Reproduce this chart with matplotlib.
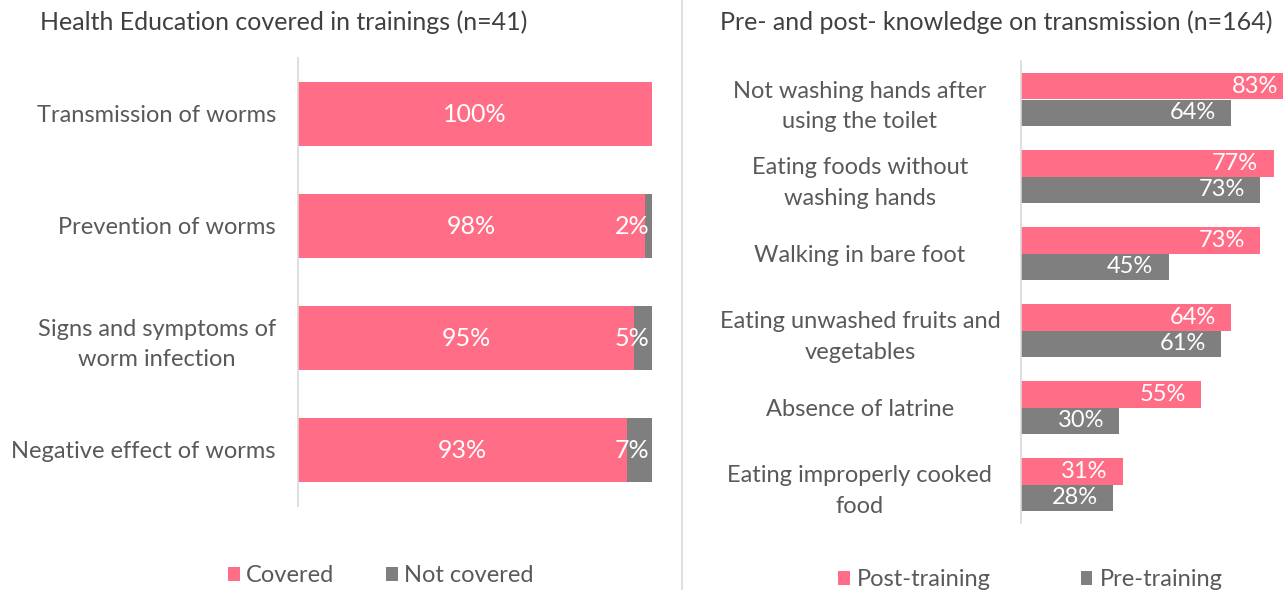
import matplotlib
matplotlib.use("Agg")
import matplotlib.pyplot as plt
import numpy as np
from matplotlib.lines import Line2D

plt.rcParams["font.family"] = ["Lato", "DejaVu Sans"]

# left panel: health education topics
topics = [
    "Transmission of worms",
    "Prevention of worms",
    "Signs and symptoms of\nworm infection",
    "Negative effect of worms",
]
covered = [100, 98, 95, 93]
not_covered = [0, 2, 5, 7]

# right panel: knowledge on transmission
modes = [
    "Not washing hands after\nusing the toilet",
    "Eating foods without\nwashing hands",
    "Walking in bare foot",
    "Eating unwashed fruits and\nvegetables",
    "Absence of latrine",
    "Eating improperly cooked\nfood",
]
post_training = [83, 77, 73, 64, 55, 31]
pre_training = [64, 73, 45, 61, 30, 28]

PINK = "#FF6E86"
GREY = "#7F7F7F"
LABEL = "#595959"
TITLE = "#404040"
AXIS = "#D9D9D9"
FS = 17

W, H = 1283, 590
fig = plt.figure(figsize=(W / 100, H / 100), dpi=100)


def style_axis(ax):
    for side in ("top", "right", "bottom"):
        ax.spines[side].set_visible(False)
    ax.spines["left"].set_color(AXIS)
    ax.spines["left"].set_linewidth(1.2)
    ax.set_xticks([])
    ax.tick_params(axis="y", length=0, labelsize=FS, labelcolor=LABEL)


# ---- left panel
ax1 = fig.add_axes([298 / W, 1 - 506 / H, (652 - 298) / W, 448 / H])
y1 = np.arange(len(topics))
b_cov = ax1.barh(y1, covered, height=0.57, color=PINK, label="Covered")
b_not = ax1.barh(y1, not_covered, left=covered, height=0.57, color=GREY, label="Not covered")
ax1.set_xlim(0, 100)
ax1.set_ylim(len(topics) - 0.5, -0.5)
style_axis(ax1)
ax1.set_yticks(y1)
ax1.set_yticklabels(topics, multialignment="center", linespacing=1.55)
ax1.tick_params(axis="y", pad=16)

for i, (c, n) in enumerate(zip(covered, not_covered)):
    ax1.text(c / 2, i, f"{c}%", ha="center", va="center", color="white", fontsize=FS + 1)
    if n > 0:
        ax1.annotate(f"{n}%", xy=(100, i), xytext=(-2, 0), textcoords="offset points",
                     ha="right", va="center", color="white", fontsize=FS + 1)

fig.text(40 / W, 1 - 22 / H, "Health Education covered in trainings (n=41)",
         ha="left", va="center", fontsize=18, color=TITLE)
fig.legend(handles=[b_cov, b_not], loc="center left", bbox_to_anchor=(228 / W, 1 - 576 / H),
           ncol=2, frameon=False, fontsize=FS, labelcolor=LABEL, borderpad=0, borderaxespad=0,
           handlelength=0.5, handleheight=0.5, handletextpad=0.25, columnspacing=2.2)

# ---- right panel
ax2 = fig.add_axes([1021 / W, 1 - 523 / H, 328 / W, 462 / H])
y2 = np.arange(len(modes))
bh = 0.35
b_post = ax2.barh(y2 - bh / 2, post_training, height=bh, color=PINK, label="Post-training")
b_pre = ax2.barh(y2 + bh / 2, pre_training, height=bh, color=GREY, label="Pre-training")
ax2.set_xlim(0, 100)
ax2.set_ylim(len(modes) - 0.5, -0.5)
style_axis(ax2)
ax2.set_yticks(y2)
ax2.set_yticklabels(modes, ha="center", multialignment="center", linespacing=1.55)
ax2.tick_params(axis="y", pad=116)

for i in range(len(modes)):
    for val, off in ((post_training[i], -bh / 2), (pre_training[i], bh / 2)):
        ax2.annotate(f"{val}%", xy=(val, i + off), xytext=(-11, 0), textcoords="offset points",
                     ha="right", va="center", color="white", fontsize=FS)

fig.text(720 / W, 1 - 22 / H, "Pre- and post- knowledge on transmission (n=164)",
         ha="left", va="center", fontsize=18, color=TITLE)
fig.legend(handles=[b_post, b_pre], loc="center left", bbox_to_anchor=(838 / W, 1 - 580 / H),
           ncol=2, frameon=False, fontsize=FS, labelcolor=LABEL, borderpad=0, borderaxespad=0,
           handlelength=0.5, handleheight=0.5, handletextpad=0.3, columnspacing=3.8)

# divider between the two charts
fig.add_artist(Line2D([682 / W, 682 / W], [0, 1], transform=fig.transFigure, color=AXIS, lw=1.2))

fig.savefig("out.png", dpi=100)
